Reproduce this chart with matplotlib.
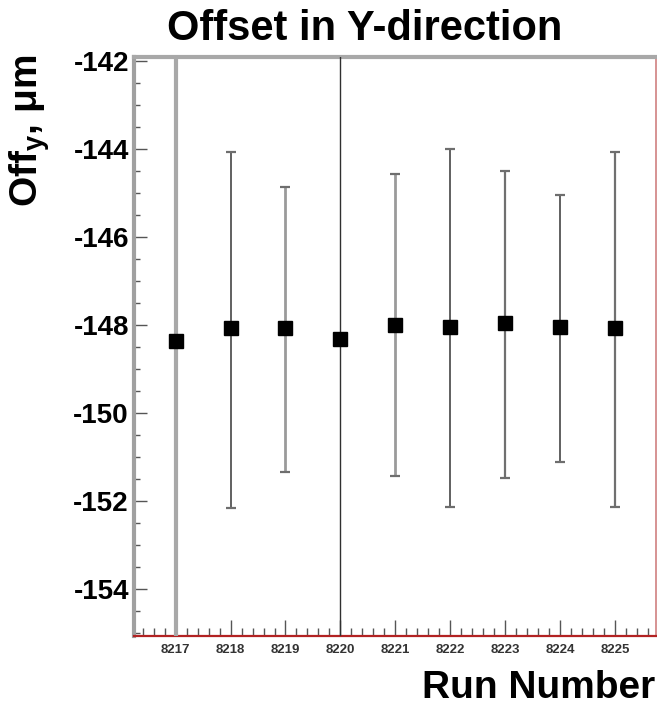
import numpy as np
import matplotlib
matplotlib.use('Agg')
import matplotlib.pyplot as plt
from matplotlib.ticker import MultipleLocator

plt.rcParams['font.family'] = ['Liberation Sans', 'DejaVu Sans']
plt.rcParams['axes.unicode_minus'] = False
plt.rcParams['mathtext.fontset'] = 'custom'
plt.rcParams['mathtext.rm'] = 'Liberation Sans:bold'
plt.rcParams['mathtext.bf'] = 'Liberation Sans:bold'
plt.rcParams['mathtext.it'] = 'Liberation Sans:bold'

# data
runs = [8217, 8218, 8219, 8220, 8221, 8222, 8223, 8224, 8225]
offset = [-148.36, -148.07, -148.07, -148.30, -148.00, -148.03, -147.94, -148.03, -148.07]
err_up = [15.0, 4.00, 3.22, 15.0, 3.45, 4.03, 3.45, 2.99, 4.00]
err_down = [15.0, 4.08, 3.27, 15.0, 3.43, 4.09, 3.52, 3.07, 4.05]

fig = plt.figure(figsize=(6.57, 7.07), dpi=100)
ax = fig.add_axes([0.2047, 0.1004, 0.794, 0.819])

eb = ax.errorbar(runs, offset, yerr=[err_down, err_up], fmt='s', color='black',
                 markersize=10.5, ecolor='#6e6e6e', elinewidth=1.6,
                 capsize=3.6, capthick=1.6, zorder=3)
# first run's bar looks lighter/thicker, fourth one thin black
lw = [3.0, 1.4, 2.0, 1.0, 2.0, 1.4, 1.6, 1.4, 1.6]
cols = ['#a8a8a8', '#606060', '#9a9a9a', '#303030', '#9a9a9a', '#606060', '#707070', '#606060', '#707070']
eb[2][0].set_linewidths(lw)
eb[2][0].set_colors(cols)

ax.set_xlim(8216.25, 8225.75)
ax.set_ylim(-155.06, -141.9)

ax.xaxis.set_major_locator(MultipleLocator(1))
ax.xaxis.set_minor_locator(MultipleLocator(0.2))
ax.yaxis.set_major_locator(MultipleLocator(2))
ax.yaxis.set_minor_locator(MultipleLocator(0.5))
ax.set_xticks(runs)
ax.set_xticklabels([str(r) for r in runs])

ax.tick_params(axis='y', which='major', direction='in', length=9.5, width=1.0,
               color='#555555', labelsize=20, pad=4)
ax.tick_params(axis='y', which='minor', direction='in', length=4.5, width=1.0, color='#555555')
ax.tick_params(axis='x', which='major', direction='in', length=11.5, width=1.0,
               color='#555555', labelsize=9.5, pad=6)
ax.tick_params(axis='x', which='minor', direction='in', length=5.5, width=1.0, color='#555555')
for t in ax.get_yticklabels():
    t.set_fontweight('bold')
for t in ax.get_xticklabels():
    t.set_fontweight('bold')
    t.set_color('#333333')

ax.spines['left'].set_color('#a0a0a0')
ax.spines['left'].set_linewidth(3.0)
ax.spines['top'].set_color('#a8a8a8')
ax.spines['top'].set_linewidth(3.0)
ax.spines['right'].set_color('#d08080')
ax.spines['right'].set_linewidth(1.2)
ax.spines['bottom'].set_color('#b22222')
ax.spines['bottom'].set_linewidth(1.6)

# titles
fig.text(0.555, 1 - 40 / 707, 'Offset in Y-direction', ha='center', va='baseline',
         fontsize=30, fontweight='bold')
fig.text(655 / 657, 1 - 698 / 707, 'Run Number', ha='right', va='baseline',
         fontsize=28, fontweight='bold')
fig.text(30 / 657, 1 - 55 / 707, r'Off$_{y}$, μm', ha='center', va='top',
         rotation=90, fontsize=28, fontweight='bold')

plt.savefig('out.png', dpi=100)
